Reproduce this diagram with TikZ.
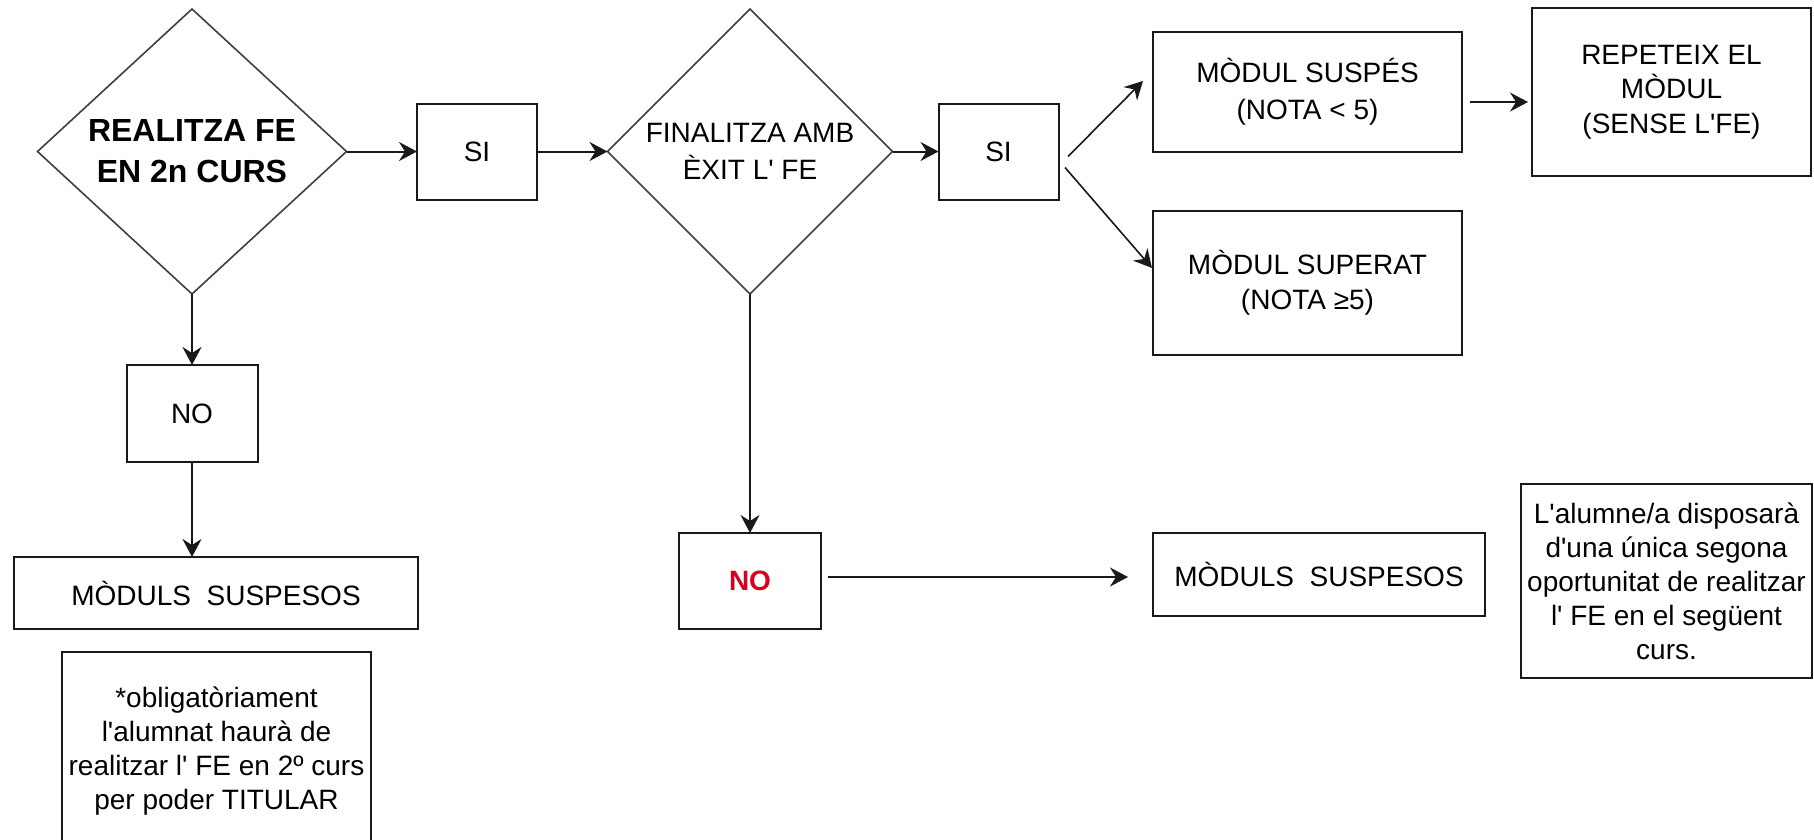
\documentclass[tikz,border=0pt]{standalone}
\usepackage{fontspec}
\setmainfont{Liberation Sans}[Ligatures=TeXOff]
\usetikzlibrary{shapes.geometric,arrows.meta}
\definecolor{nored}{RGB}{215,0,30}
\begin{document}
\begin{tikzpicture}[x=1pt,y=-1pt,
  box/.style={draw=black!90, line width=2pt, rectangle, inner sep=0pt, outer sep=0pt, align=center, font=\fontsize{28}{34}\selectfont},
  dia/.style={draw=black!75, line width=1.6pt, diamond, inner sep=0pt, outer sep=0pt},
  txt/.style={inner sep=0pt, align=center},
  arr/.style={draw=black!90, line width=2pt, -{Stealth[length=18pt,width=19pt,inset=6pt]}},
]
\useasboundingbox (0,0) rectangle (1814,839);
\clip (0,0) rectangle (1814,839);
\fill[white] (0,0) rectangle (1814,839);

\node[dia, minimum width=309pt, minimum height=285pt] (D1) at (192,151.5) {};
\node[txt, font=\bfseries\fontsize{32}{41}\selectfont] (T1) at (D1) {REALITZA FE\\EN 2n CURS};
\node[box, minimum width=120pt, minimum height=96pt] (SI1) at (477,151.5) {SI};
\node[dia, minimum width=285pt, minimum height=285pt] (D2) at (750,151.5) {};
\node[txt, font=\fontsize{28}{37}\selectfont] (T2) at (D2) {FINALITZA AMB\\ÈXIT L' FE};
\node[box, minimum width=120pt, minimum height=96pt] (SI2) at (998.5,151.5) {SI};
\node[box, minimum width=309pt, minimum height=120pt, font=\fontsize{28}{37}\selectfont] (SUS) at (1307.5,92) {MÒDUL SUSPÉS\\(NOTA < 5)};
\node[box, minimum width=309pt, minimum height=144pt, font=\fontsize{28}{35}\selectfont] (SUP) at (1307.5,283) {MÒDUL SUPERAT\\(NOTA ≥5)};
\node[box, minimum width=279pt, minimum height=168pt, font=\fontsize{28}{34.5}\selectfont] (REP) at (1671.5,92) {REPETEIX EL\\MÒDUL\\(SENSE L'FE)};
\node[box, minimum width=131pt, minimum height=97pt] (NO1) at (192,413.5) {NO};
\node[box, minimum width=404pt, minimum height=72pt] (MS1) at (216,593) {MÒDULS\ \ SUSPESOS};
\node[box, minimum width=309pt, minimum height=198pt] (N1) at (216.5,751) {*obligatòriament\\l'alumnat haurà de\\realitzar l' FE en 2º curs\\per poder TITULAR};
\node[box, minimum width=142pt, minimum height=96pt, text=nored, font=\bfseries\fontsize{28}{34}\selectfont] (NO2) at (750,581) {NO};
\node[box, minimum width=332pt, minimum height=83pt] (MS2) at (1319,574.5) {MÒDULS\ \ SUSPESOS};
\node[box, minimum width=291pt, minimum height=194pt] (N2) at (1666.5,581) {L'alumne/a disposarà\\d'una única segona\\oportunitat de realitzar\\l' FE en el següent\\curs.};

\draw[arr] (D1.east) -- (SI1.west);
\draw[arr] (SI1.east) -- (D2.west);
\draw[arr] (D2.east) -- (SI2.west);
\draw[arr] (D1.south) -- (NO1.north);
\draw[arr] (NO1.south) -- (NO1.south |- MS1.north);
\draw[arr] (D2.south) -- (NO2.north);
\draw[arr, line width=1.6pt] ([shift={(9.5,5)}]SI2.east) -- ([shift={(-10,-11)}]SUS.west);
\draw[arr, line width=1.6pt] ([shift={(6.5,16)}]SI2.east) -- ([shift={(-1,-15)}]SUP.west);
\draw[arr] ([shift={(7,-4)}]NO2.east) -- ([shift={(-25,2.5)}]MS2.west);
\draw[arr, line width=1.6pt] ([shift={(8,10)}]SUS.east) -- ([shift={(-4,10)}]REP.west);
\end{tikzpicture}
\end{document}
